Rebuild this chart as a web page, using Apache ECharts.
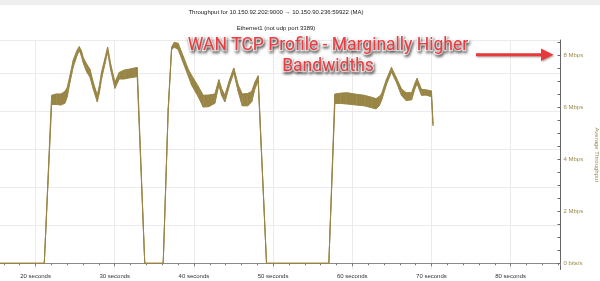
<!DOCTYPE html>
<html><head><meta charset="utf-8">
<script src="https://cdn.jsdelivr.net/npm/echarts@6/dist/echarts.min.js"></script>
<style>html,body{margin:0;padding:0;background:#fff}#c{width:600px;height:281px}</style>
</head><body><div id="c"></div>
<script>
// time (seconds)
const times = [15.5,21.10,22.03,22.6,23.2,23.71,24.0,24.34,24.76,25.2,25.52,25.8,26.02,26.45,26.87,27.28,27.79,28.05,28.34,28.75,29.1,29.48,30.02,30.57,31.2,31.8,32.5,32.84,33.79,
  36.12,36.75,37.18,37.5,38.0,38.65,39.28,39.7,40.54,41.17,41.9,42.65,43.15,43.5,43.91,44.5,45.04,45.59,46.1,46.8,47.3,47.7,48.11,49.17,
  57.04,57.8,58.5,59.3,60.5,61.5,62.4,63.0,63.4,63.69,64.3,64.95,65.58,66.21,66.8,67.5,67.9,68.18,68.74,69.3,70.0,70.2];
// lower edge of the moving-average band (Mbps)
const lowVals = [0,0,6.10,6.10,6.08,6.15,6.40,6.95,7.55,7.95,8.18,7.95,7.70,7.35,7.15,6.70,6.20,6.55,7.10,7.65,8.12,7.45,6.72,7.08,7.08,7.12,7.15,7.18,0,
  0,5.85,8.20,8.30,8.22,7.70,7.20,6.85,6.40,6.00,6.02,6.15,6.85,6.45,6.20,6.85,7.32,6.60,6.05,6.05,6.20,6.70,7.00,0,
  0,6.14,6.14,6.12,6.08,6.05,5.98,5.93,6.05,6.25,6.85,7.35,6.95,6.45,6.25,6.28,6.70,6.90,6.45,6.46,6.40,5.28];
// upper edge of the moving-average band (Mbps)
const highVals = [0,0,6.45,6.50,6.50,6.60,6.75,7.20,7.80,8.15,8.32,8.15,7.90,7.65,7.45,6.95,6.45,6.80,7.35,7.85,8.30,7.65,6.95,7.33,7.42,7.45,7.50,7.52,0,
  0,5.95,8.30,8.48,8.45,7.95,7.45,7.22,6.80,6.45,6.46,6.50,7.05,6.70,6.45,7.05,7.50,6.85,6.50,6.52,6.60,6.95,7.20,0,
  0,6.50,6.53,6.55,6.49,6.45,6.38,6.32,6.40,6.50,7.05,7.52,7.12,6.70,6.55,6.55,6.90,7.10,6.68,6.66,6.62,5.35];
const yLabelValues = [0,2,4,6,8];
const yLabelTexts = ['0 bits/s','2 Mbps','4 Mbps','6 Mbps','8 Mbps'];
const yTickValues = [0,0.5,1,1.5,2,2.5,3,3.5,4,4.5,5,5.5,6,6.5,7,7.5,8,8.5];
const xLabelSuffix = ' seconds';

const gold = '#9c8a4e';
const band = '#998545';
const chart = echarts.init(document.getElementById('c'), null, {renderer:'canvas'});
const lowData = times.map((t,i)=>[t, lowVals[i]]);
const highData = times.map((t,i)=>[t, highVals[i]]);
const segData = times.slice(0,-1).map((t,i)=>[t, lowVals[i], highVals[i], times[i+1], lowVals[i+1], highVals[i+1]]);
const ff = 'Liberation Sans';
const noteStyle = {fontSize:17.5, fill:'#ee3a3e', align:'center', verticalAlign:'middle', fontFamily:'Roboto',
  stroke:'#ffffff', lineWidth:2.5,
  textShadowColor:'rgba(0,0,0,0.5)', textShadowBlur:3, textShadowOffsetX:1, textShadowOffsetY:1.5};
chart.setOption({
  animation:false,
  textStyle:{fontFamily:ff},
  grid:[
    {left:-43.6, right:39.5, top:40, bottom:11.5, outerBoundsMode:'none', containLabel:false},
    {left:-43.6, right:39.5, top:40, bottom:17.7, outerBoundsMode:'none', containLabel:false}
  ],
  xAxis:[
    {gridIndex:0, type:'value', min:10, max:86.3, interval:10,
     axisLine:{lineStyle:{color:'#8a8a8a'}},
     axisTick:{length:3, lineStyle:{color:'#777'}},
     minorTick:{show:true, splitNumber:5, length:2, lineStyle:{color:'#777'}},
     axisLabel:{fontSize:6, color:'#333', margin:4, formatter:v=>v+xLabelSuffix, showMaxLabel:false},
     splitLine:{show:true, lineStyle:{color:'#ebebeb'}}},
    {gridIndex:1, type:'value', min:10, max:86.3, show:false}
  ],
  yAxis:[
    {gridIndex:0, type:'value', position:'right', min:-0.238, max:8.575,
     axisLine:{show:true, lineStyle:{color:'#666'}},
     axisTick:{show:true, inside:true, length:3, customValues:yTickValues, lineStyle:{color:'#666'}},
     axisLabel:{fontSize:6, color:gold, margin:3, customValues:yLabelValues,
       formatter:v=>{const i=yLabelValues.indexOf(Math.round(v*1000)/1000);return i>=0?yLabelTexts[i]:'';}},
     splitLine:{show:false},
     name:'Average Throughput', nameLocation:'middle', nameGap:33, nameRotate:-90,
     nameTextStyle:{fontSize:6, color:gold}},
    {gridIndex:1, type:'value', min:0, max:5.89, interval:1,
     axisLine:{show:false}, axisTick:{show:false}, axisLabel:{show:false},
     splitLine:{show:true, lineStyle:{color:'#ebebeb'}}}
  ],
  series:[
    {type:'custom', xAxisIndex:0, yAxisIndex:0, data:segData, z:3, silent:true,
     renderItem:(params, api)=>{
       const a=api.coord([api.value(0),api.value(1)]), b=api.coord([api.value(3),api.value(4)]);
       const c=api.coord([api.value(3),api.value(5)]), d=api.coord([api.value(0),api.value(2)]);
       return {type:'polygon', shape:{points:[a,b,c,d]}, style:{fill:band, stroke:band, lineWidth:0.5}};
     }},
    {type:'line', xAxisIndex:0, yAxisIndex:0, data:lowData, showSymbol:false, symbol:'none',
     lineStyle:{color:band, width:0.9}, z:4},
    {type:'line', xAxisIndex:0, yAxisIndex:0, data:highData, showSymbol:false, symbol:'none',
     lineStyle:{color:band, width:0.9}, z:4}
  ],
  graphic:[
    {type:'rect', left:0, top:0, shape:{width:600, height:5}, style:{fill:'#eeeeee'}, silent:true},
    {type:'text', x:276, y:12.5, style:{text:'Throughput for 10.150.92.202:9000 \u2192 10.150.90.236:59922 (MA)', fontSize:6, fill:'#222', align:'center', verticalAlign:'middle', fontFamily:ff}},
    {type:'text', x:276, y:28.5, style:{text:'Ethernet1 (not udp port 3389)', fontSize:6, fill:'#222', align:'center', verticalAlign:'middle', fontFamily:ff}},
    {type:'text', x:328, y:46, z:10, style:Object.assign({text:'WAN TCP Profile - Marginally Higher'}, noteStyle)},
    {type:'text', x:328, y:67, z:10, style:Object.assign({text:'Bandwidths'}, noteStyle)},
    {type:'rect', z:10, shape:{x:476, y:53.2, width:67, height:3}, style:{fill:'#e8383c', shadowColor:'rgba(0,0,0,0.35)', shadowBlur:2, shadowOffsetX:1, shadowOffsetY:1}},
    {type:'polygon', z:10, shape:{points:[[541,48.5],[553.5,54.7],[541,61]]}, style:{fill:'#e8383c', shadowColor:'rgba(0,0,0,0.35)', shadowBlur:2, shadowOffsetX:1, shadowOffsetY:1}}
  ]
});
</script></body></html>
